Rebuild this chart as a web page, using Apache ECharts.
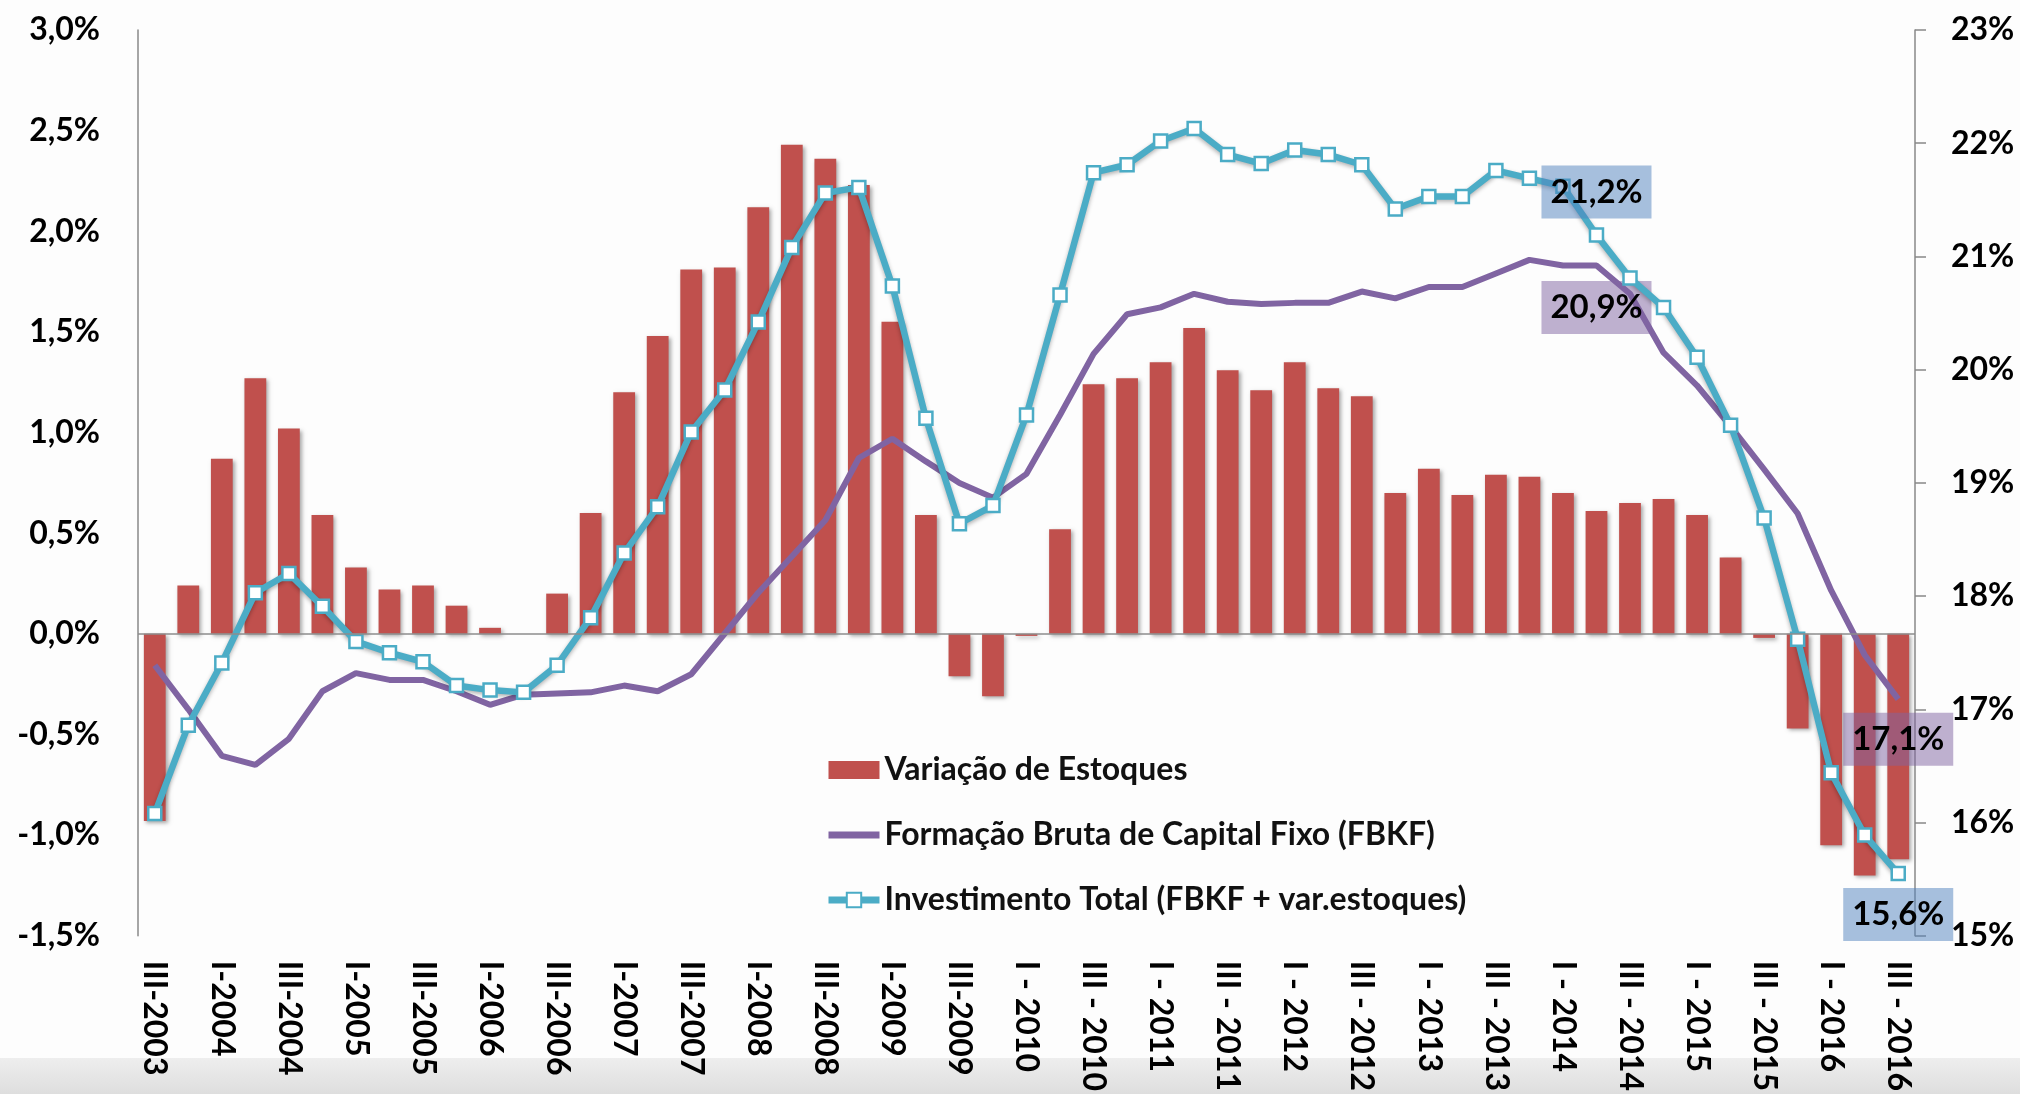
<!DOCTYPE html>
<html>
<head>
<meta charset="utf-8">
<title>Investimento</title>
<script src="https://cdn.jsdelivr.net/npm/echarts@6/dist/echarts.min.js"></script>
<style>
    html, body { margin: 0; padding: 0; background: #fdfdfd; }
    #chart { width: 2020px; height: 1094px; }
</style>
</head>
<body>
<div id="chart"></div>
<script>
// trimestres (III-2003 a III-2016)
var trimestres = [
    'III-2003', 'IV-2003',
    'I-2004', 'II-2004', 'III-2004', 'IV-2004',
    'I-2005', 'II-2005', 'III-2005', 'IV-2005',
    'I-2006', 'II-2006', 'III-2006', 'IV-2006',
    'I-2007', 'II-2007', 'III-2007', 'IV-2007',
    'I-2008', 'II-2008', 'III-2008', 'IV-2008',
    'I-2009', 'II-2009', 'III-2009', 'IV-2009',
    'I - 2010', 'II - 2010', 'III - 2010', 'IV - 2010',
    'I - 2011', 'II - 2011', 'III - 2011', 'IV - 2011',
    'I - 2012', 'II - 2012', 'III - 2012', 'IV - 2012',
    'I - 2013', 'II - 2013', 'III - 2013', 'IV - 2013',
    'I - 2014', 'II - 2014', 'III - 2014', 'IV - 2014',
    'I - 2015', 'II - 2015', 'III - 2015', 'IV - 2015',
    'I - 2016', 'II - 2016', 'III - 2016'
];

// % do PIB, eixo esquerdo
var variacaoEstoques = [
    -0.93, 0.24, 0.87, 1.27, 1.02, 0.59, 0.33, 0.22, 0.24, 0.14,
    0.03, 0, 0.20, 0.60, 1.20, 1.48, 1.81, 1.82, 2.12, 2.43,
    2.36, 2.23, 1.55, 0.59, -0.21, -0.31, -0.01, 0.52, 1.24, 1.27,
    1.35, 1.52, 1.31, 1.21, 1.35, 1.22, 1.18, 0.70, 0.82, 0.69,
    0.79, 0.78, 0.70, 0.61, 0.65, 0.67, 0.59, 0.38, -0.02, -0.47,
    -1.05, -1.20, -1.12
];

// % do PIB, eixo direito
var fbkf = [
    17.39, 17.00, 16.59, 16.51, 16.74, 17.16, 17.32, 17.26, 17.26, 17.16,
    17.04, 17.13, 17.14, 17.15, 17.21, 17.16, 17.31, 17.67, 18.03, 18.35,
    18.67, 19.22, 19.39, 19.19, 19.00, 18.87, 19.08, 19.60, 20.14, 20.49,
    20.55, 20.67, 20.60, 20.58, 20.59, 20.59, 20.69, 20.63, 20.73, 20.73,
    20.85, 20.97, 20.92, 20.92, 20.67, 20.15, 19.86, 19.50, 19.12, 18.73,
    18.05, 17.48, 17.09
];

var investimentoTotal = [
    16.08, 16.86, 17.41, 18.03, 18.20, 17.91, 17.60, 17.50, 17.42, 17.21,
    17.17, 17.15, 17.39, 17.81, 18.38, 18.79, 19.45, 19.82, 20.42, 21.08,
    21.56, 21.61, 20.74, 19.57, 18.64, 18.80, 19.60, 20.66, 21.74, 21.81,
    22.02, 22.13, 21.90, 21.82, 21.94, 21.90, 21.81, 21.42, 21.53, 21.53,
    21.76, 21.69, 21.62, 21.19, 20.81, 20.55, 20.11, 19.51, 18.69, 17.62,
    16.44, 15.89, 15.55
];

// rótulos em destaque: indice -> texto
var destaqueFbkf = { 43: '20,9%', 52: '17,1%' };
var destaqueInvest = { 43: '21,2%', 52: '15,6%' };

var fonte = 'Lato';
var corBarra = '#c0504d';
var corRoxo = '#8064a2';
var corAzul = '#4bacc6';

function caixa(texto, fundo, dy) {
    return {
        show: true,
        formatter: texto,
        position: 'inside',
        offset: [0, dy],
        backgroundColor: fundo,
        width: 90,
        align: 'center',
        padding: [8, 10],
        lineHeight: 37,
        fontFamily: fonte,
        fontWeight: 'bold',
        fontSize: 33,
        color: '#000'
    };
}

var dadosFbkf = fbkf.map(function (v, i) {
    if (destaqueFbkf[i]) {
        return { value: v, label: caixa(destaqueFbkf[i], 'rgba(128,100,162,0.5)', i === 52 ? 40 : 42) };
    }
    return v;
});

var dadosInvest = investimentoTotal.map(function (v, i) {
    if (destaqueInvest[i]) {
        var dy = i === 52 ? 41 : -43;
        return { value: v, label: caixa(destaqueInvest[i], 'rgba(79,129,189,0.5)', dy) };
    }
    return v;
});

var dom = document.getElementById('chart');
var myChart = echarts.init(dom);
var option = {
    backgroundColor: '#fdfdfd',
    animation: false,
    graphic: [
        {
            type: 'rect',
            left: 0,
            top: 1058,
            z: 0,
            shape: { width: 2020, height: 36 },
            style: {
                fill: new echarts.graphic.LinearGradient(0, 0, 0, 1, [
                    { offset: 0, color: '#eeeeee' },
                    { offset: 1, color: '#dedede' }
                ])
            }
        }
    ],
    grid: {
        left: 138,
        right: 105,
        top: 30,
        bottom: 157
    },
    legend: {
        orient: 'vertical',
        left: 820,
        top: 749,
        itemWidth: 51,
        itemHeight: 18,
        itemGap: 33,
        itemTextGap: 8,
        textStyle: {
            fontFamily: fonte,
            fontWeight: 'bold',
            fontSize: 32,
            lineHeight: 31,
            color: '#111'
        },
        data: [
            { name: 'Variação de Estoques', icon: 'rect' },
            { name: 'Formação Bruta de Capital Fixo (FBKF)', icon: 'path://M0,0H51V7H0Z' },
            { name: 'Investimento Total (FBKF + var.estoques)', lineStyle: { width: 7 } }
        ]
    },
    xAxis: {
        type: 'category',
        data: trimestres,
        axisLine: { show: false, onZero: false },
        axisTick: { show: false },
        splitLine: { show: false },
        axisLabel: {
            interval: 1,
            rotate: -90,
            margin: 25,
            fontFamily: fonte,
            fontWeight: 'bold',
            fontSize: 32,
            color: '#000'
        }
    },
    yAxis: [
        {
            type: 'value',
            min: -1.5,
            max: 3.0,
            interval: 0.5,
            splitLine: { show: false },
            axisTick: { show: false },
            axisLine: { show: true, lineStyle: { color: '#888', width: 1.5 } },
            axisLabel: {
                margin: 38,
                fontFamily: fonte,
                fontWeight: 'bold',
                fontSize: 32,
                color: '#000',
                formatter: function (v) {
                    return v.toFixed(1).replace('.', ',') + '%';
                }
            }
        },
        {
            type: 'value',
            position: 'right',
            min: 15,
            max: 23,
            interval: 1,
            splitLine: { show: false },
            axisTick: { show: true, length: 11, lineStyle: { color: '#888', width: 1.5 } },
            axisLine: { show: true, lineStyle: { color: '#888', width: 1.5 } },
            axisLabel: {
                margin: 36,
                fontFamily: fonte,
                fontWeight: 'bold',
                fontSize: 32,
                color: '#000',
                formatter: '{value}%'
            }
        }
    ],
    series: [
        {
            name: 'Variação de Estoques',
            type: 'bar',
            yAxisIndex: 0,
            barWidth: '65%',
            data: variacaoEstoques,
            itemStyle: {
                color: corBarra,
                shadowColor: 'rgba(0,0,0,0.35)',
                shadowBlur: 4,
                shadowOffsetX: 2,
                shadowOffsetY: 2
            },
            markLine: {
                silent: true,
                symbol: ['none', 'none'],
                label: { show: false },
                lineStyle: { color: '#8c8c8c', width: 1.5, type: 'solid' },
                data: [{ yAxis: 0 }]
            }
        },
        {
            name: 'Formação Bruta de Capital Fixo (FBKF)',
            type: 'line',
            yAxisIndex: 1,
            data: dadosFbkf,
            symbol: 'circle',
            symbolSize: 0,
            showSymbol: true,
            showAllSymbol: true,
            z: 3,
            itemStyle: { color: corRoxo },
            lineStyle: { color: corRoxo, width: 6 }
        },
        {
            name: 'Investimento Total (FBKF + var.estoques)',
            type: 'line',
            yAxisIndex: 1,
            data: dadosInvest,
            symbol: 'rect',
            symbolSize: 13,
            showAllSymbol: true,
            z: 4,
            itemStyle: { color: '#fff', borderColor: corAzul, borderWidth: 2.5 },
            lineStyle: {
                color: corAzul,
                width: 6.5,
                shadowColor: 'rgba(0,0,0,0.3)',
                shadowBlur: 4,
                shadowOffsetY: 2
            }
        }
    ]
};
if (option && typeof option === "object") {
    myChart.setOption(option, true);
}
</script>
</body>
</html>
